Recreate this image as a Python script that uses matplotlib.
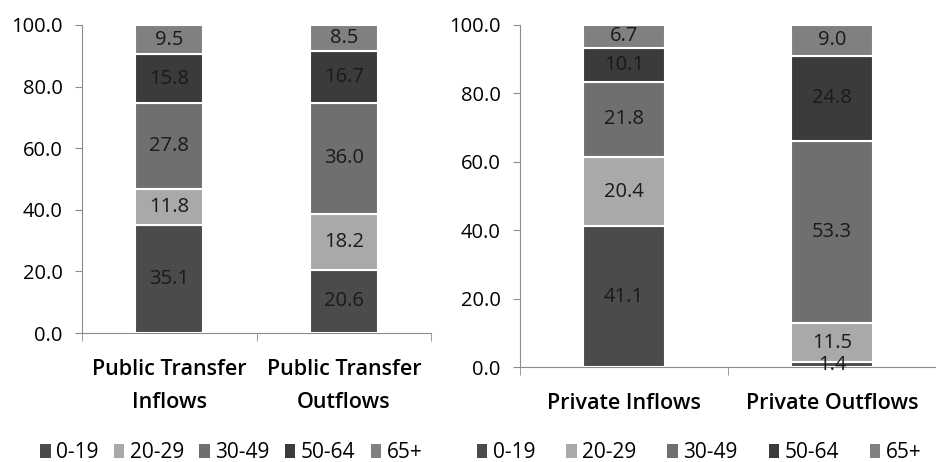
import numpy as np
import matplotlib
matplotlib.use("Agg")
import matplotlib.pyplot as plt
from matplotlib.patches import Patch

plt.rcParams['font.family'] = ['Open Sans', 'DejaVu Sans']

age_groups = ["0-19", "20-29", "30-49", "50-64", "65+"]
colors = ["#4b4b4b", "#a9a9a9", "#6f6f6f", "#3b3b3b", "#808080"]

public_cats = ["Public Transfer\nInflows", "Public Transfer\nOutflows"]
public_vals = [[35.1, 20.6],   # 0-19
               [11.8, 18.2],   # 20-29
               [27.8, 36.0],   # 30-49
               [15.8, 16.7],   # 50-64
               [9.5, 8.5]]     # 65+

private_cats = ["Private Inflows", "Private Outflows"]
private_vals = [[41.1, 1.4],
                [20.4, 11.5],
                [21.8, 53.3],
                [10.1, 24.8],
                [6.7, 9.0]]

AX_GRAY = "#8c8c8c"


def stacked(ax, cats, vals, xpad):
    x = np.arange(len(cats))
    bottom = np.zeros(len(cats))
    for i, v in enumerate(vals):
        v = np.array(v)
        ax.bar(x, v, 0.39, bottom=bottom, color=colors[i], edgecolor="white",
               linewidth=1.5, zorder=3)
        for xi, vi, bi in zip(x, v, bottom):
            ax.text(xi, bi + vi / 2, f"{vi:.1f}", ha="center", va="center",
                    fontsize=14.5, color="#1a1a1a", zorder=4)
        bottom += v
    ax.set_xlim(-0.5, len(cats) - 0.5)
    ax.set_ylim(0, 100)
    ax.set_yticks(np.arange(0, 101, 20))
    ax.set_yticklabels([f"{t:.1f}" for t in np.arange(0, 101, 20)], fontsize=14.5)
    ax.set_xticks(x)
    ax.set_xticklabels(cats, fontsize=15.5, fontweight="semibold", linespacing=1.75)
    ax.tick_params(axis="x", length=0, pad=xpad)
    ax.set_xticks([-0.5, 0.5, 1.5], minor=True)
    ax.tick_params(axis="x", which="minor", length=6, color=AX_GRAY, direction="out")
    ax.tick_params(axis="y", length=5, color=AX_GRAY, pad=9)
    for s in ["top", "right"]:
        ax.spines[s].set_visible(False)
    ax.spines["left"].set_color(AX_GRAY)
    ax.spines["bottom"].set_color(AX_GRAY)


fig = plt.figure(figsize=(9.36, 4.62), dpi=100)
ax1 = fig.add_axes([0.0876, 0.279, 0.373, 0.667])
ax2 = fig.add_axes([0.5556, 0.2056, 0.4444, 0.7404])
stacked(ax1, public_cats, public_vals, 19)
stacked(ax2, private_cats, private_vals, 19)

handles = [Patch(facecolor=c, edgecolor="none") for c in colors]
for cx, cs in ((0.247, 0.75), (0.747, 1.5)):
    fig.legend(handles, age_groups, loc="center", bbox_to_anchor=(cx, 0.02),
               ncol=5, frameon=False, fontsize=15, handlelength=0.5,
               handleheight=0.65, handletextpad=0.25, columnspacing=cs,
               borderpad=0)

fig.savefig("out.png", dpi=100, facecolor="white")
